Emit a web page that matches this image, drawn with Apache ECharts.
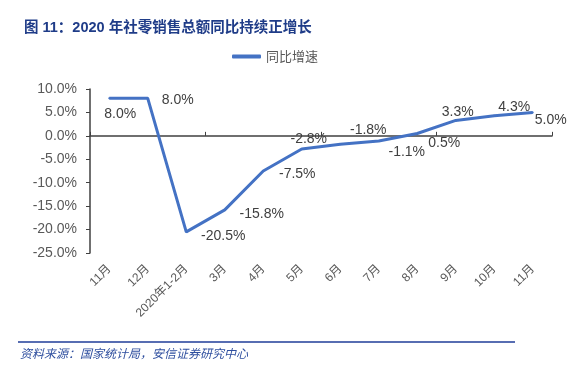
<!DOCTYPE html>
<html>
<head>
<meta charset="utf-8">
<script src="https://cdn.jsdelivr.net/npm/echarts@6/dist/echarts.min.js"></script>
<style>html,body{margin:0;padding:0;background:#fff}#c{width:578px;height:370px}</style>
</head>
<body>
<div id="c"></div>
<script>
const categories = ['11月','12月','2020年1-2月','3月','4月','5月','6月','7月','8月','9月','10月','11月'];
const growth = [8.0, 8.0, -20.5, -15.8, -7.5, -2.8, -1.8, -1.1, 0.5, 3.3, 4.3, 5.0];
const yTicks = { min: -25, max: 10, interval: 5 };
const seriesName = '同比增速';
const titleText = '图 11：2020 年社零销售总额同比持续正增长';
const sourceText = '资料来源：国家统计局，安信证券研究中心';

// label offsets (layout only)
const labelOffsets = [[11,16],[30,2],[37,4],[37,4],[34,3],[7,-10],[28,-14],[28,11],[27,10],[2,-8],[20,-9],[18,8]];

const chart = echarts.init(document.getElementById('c'));
const fontFamily = '"Liberation Sans", Arial, "Noto Sans CJK SC", sans-serif';
chart.setOption({
  animation: false,
  textStyle: { fontFamily },
  title: {
    text: titleText, left: 19, top: 16,
    textStyle: { fontSize: 14.5, fontWeight: 'bold', color: '#1F3C88', fontFamily: '"Liberation Sans", "Noto Sans CJK SC", sans-serif' }
  },
  legend: {
    data: [seriesName], top: 45, left: 227,
    itemWidth: 29, itemHeight: 4, itemGap: 6,
    icon: 'roundRect',
    textStyle: { fontSize: 13, color: '#595959', fontFamily: '"Noto Sans CJK SC", sans-serif' }
  },
  grid: { left: 90, right: 26, top: 89, bottom: 117 },
  xAxis: [
    {
      type: 'category', data: categories, boundaryGap: true,
      axisLine: { onZero: true, lineStyle: { color: '#404040', width: 1.5 } },
      axisTick: { show: true, inside: true, length: 4, lineStyle: { color: '#404040' } },
      axisLabel: { show: false }
    },
    {
      type: 'category', data: categories, boundaryGap: true, position: 'bottom',
      axisLine: { show: false, onZero: false }, axisTick: { show: false },
      axisLabel: { rotate: 45, margin: 14, fontSize: 12, color: '#595959', interval: 0, fontFamily: '"Liberation Sans", "Noto Sans CJK SC", sans-serif' }
    }
  ],
  yAxis: {
    type: 'value', min: yTicks.min, max: yTicks.max, interval: yTicks.interval,
    splitLine: { show: false },
    axisLine: { show: true, lineStyle: { color: '#404040', width: 1.5 } },
    axisTick: { show: true, length: 4, lineStyle: { color: '#404040' } },
    axisLabel: { fontSize: 14, color: '#595959', margin: 13, formatter: v => v.toFixed(1) + '%' }
  },
  series: [{
    name: seriesName, type: 'line', xAxisIndex: 0,
    data: growth.map((v, i) => ({
      value: v,
      label: { offset: labelOffsets[i] }
    })),
    symbol: 'circle', symbolSize: 2, showSymbol: true,
    lineStyle: { color: '#4472C4', width: 3 },
    itemStyle: { color: '#4472C4' },
    label: {
      show: true, position: 'inside', fontSize: 14, color: '#404040',
      formatter: p => p.value.toFixed(1) + '%'
    }
  }],
  graphic: [
    { type: 'line', shape: { x1: 18, y1: 342, x2: 515, y2: 342 }, style: { stroke: '#1F3C99', lineWidth: 1.5 } },
    { type: 'text', left: 20, top: 347, style: { text: sourceText, fill: '#2F4F9F', font: 'italic 12px "Noto Sans CJK SC", sans-serif' } }
  ]
});
</script>
</body>
</html>
